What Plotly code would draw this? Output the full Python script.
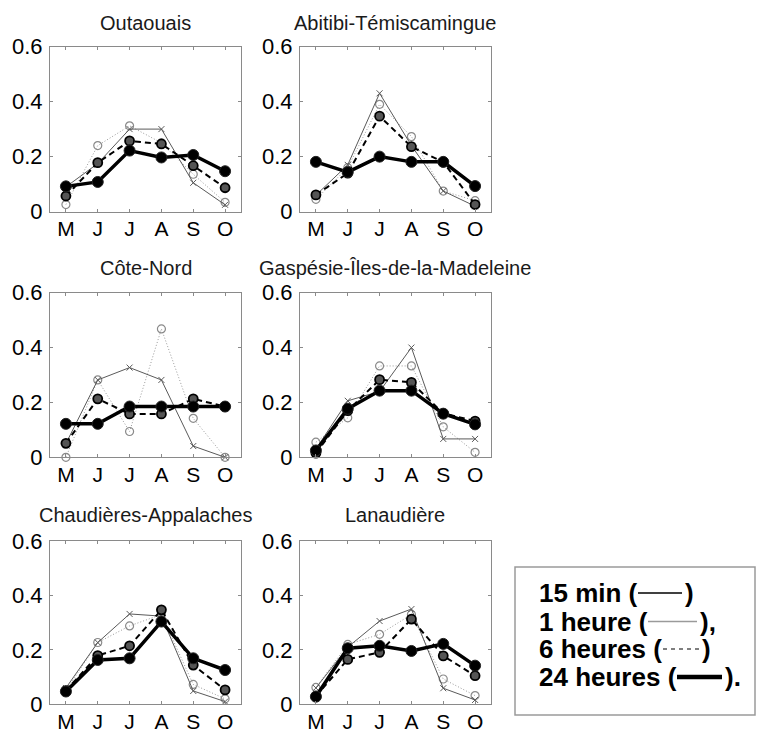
import plotly.graph_objects as go

W, H = 758, 732

months = ["M", "J", "J", "A", "S", "O"]
month_pos = [1, 2, 3, 4, 5, 6]
yticks = [0, 0.2, 0.4, 0.6]
yticklabels = ["0", "0.2", "0.4", "0.6"]

regions = ["Outaouais", "Abitibi-Témiscamingue", "Côte-Nord",
           "Gaspésie-Îles-de-la-Madeleine", "Chaudières-Appalaches", "Lanaudière"]

# 15 min (thin solid, x markers)
min15 = [
    [0.09, 0.175, 0.30, 0.30, 0.105, 0.025],
    [0.06, 0.17, 0.43, 0.24, 0.075, 0.02],
    [0.05, 0.282, 0.327, 0.282, 0.041, 0.0],
    [0.03, 0.206, 0.24, 0.40, 0.067, 0.067],
    [0.06, 0.227, 0.332, 0.324, 0.049, 0.01],
    [0.06, 0.21, 0.306, 0.35, 0.059, 0.016],
]
# 1 heure (dotted, open circles)
h1 = [
    [0.026, 0.24, 0.312, 0.25, 0.136, 0.034],
    [0.045, 0.16, 0.39, 0.273, 0.075, 0.04],
    [0.0, 0.282, 0.094, 0.468, 0.142, 0.0],
    [0.055, 0.144, 0.333, 0.333, 0.111, 0.018],
    [0.05, 0.227, 0.288, 0.33, 0.073, 0.02],
    [0.062, 0.22, 0.257, 0.33, 0.093, 0.032],
]
# 6 heures (dashed)
h6 = [
    [0.057, 0.178, 0.257, 0.246, 0.167, 0.087],
    [0.061, 0.14, 0.347, 0.236, 0.18, 0.026],
    [0.051, 0.213, 0.158, 0.158, 0.213, 0.185],
    [0.015, 0.17, 0.283, 0.273, 0.16, 0.132],
    [0.05, 0.179, 0.215, 0.347, 0.144, 0.053],
    [0.03, 0.165, 0.191, 0.313, 0.178, 0.105],
]
# 24 heures (thick)
h24 = [
    [0.092, 0.108, 0.222, 0.197, 0.206, 0.147],
    [0.181, 0.144, 0.2, 0.181, 0.181, 0.093],
    [0.122, 0.122, 0.185, 0.185, 0.185, 0.185],
    [0.025, 0.177, 0.243, 0.243, 0.159, 0.12],
    [0.047, 0.163, 0.169, 0.304, 0.169, 0.126],
    [0.028, 0.206, 0.215, 0.196, 0.222, 0.142],
]

legend_left = ["15 min (", "1 heure (", "6 heures (", "24 heures ("]
legend_right = [")", "),", ")", ")."]


def px(x):
    return x / W


def py(y):
    return 1 - y / H


col_px = [(50, 241), (300, 491)]
row_px = [(46.5, 211.7), (292.7, 457.3), (541, 704.3)]

fig = go.Figure()
layout = dict(
    template="none",
    width=W, height=H,
    margin=dict(l=0, r=0, t=0, b=0, pad=0, autoexpand=False),
    paper_bgcolor="white", plot_bgcolor="white",
    showlegend=False,
    font=dict(family="Liberation Sans, Arial, sans-serif", color="black"),
)
annotations = []
shapes = []

for i, name in enumerate(regions):
    r, c = divmod(i, 2)
    k = i + 1
    xa = "x" if k == 1 else f"x{k}"
    ya = "y" if k == 1 else f"y{k}"
    x0, x1 = col_px[c]
    y0, y1 = row_px[r]
    axis_common = dict(
        showline=True, linecolor="#8a8a8a", linewidth=1, mirror="ticks",
        ticks="inside", ticklen=3, tickcolor="#8a8a8a", tickwidth=1,
        showgrid=False, zeroline=False, automargin=False,
    )
    layout["xaxis" if k == 1 else f"xaxis{k}"] = dict(
        domain=[px(x0), px(x1)], range=[0.5, 6.5],
        tickvals=month_pos, ticktext=months, anchor=ya,
        fixedrange=True, ticklabelstandoff=-2,
        tickfont=dict(size=21, color="black"), **axis_common)
    layout["yaxis" if k == 1 else f"yaxis{k}"] = dict(
        domain=[py(y1), py(y0)], range=[0, 0.6],
        tickvals=yticks, ticktext=yticklabels, anchor=xa,
        fixedrange=True, ticklabelstandoff=2,
        tickfont=dict(size=22, color="black"), **axis_common)

    # 1 heure: dotted light gray, open circles
    fig.add_trace(go.Scatter(
        x=month_pos, y=h1[i], xaxis=xa, yaxis=ya, mode="lines+markers",
        line=dict(color="#9a9a9a", width=1, dash="1px,2px"),
        marker=dict(symbol="circle-open", size=8, color="#8a8a8a", line=dict(width=1.2)),
        cliponaxis=False, name="1 heure"))
    # 15 min: thin solid dark gray, x markers
    fig.add_trace(go.Scatter(
        x=month_pos, y=min15[i], xaxis=xa, yaxis=ya, mode="lines+markers",
        line=dict(color="#5a5a5a", width=1),
        marker=dict(symbol="x-thin-open", size=6, color="#5a5a5a", line=dict(width=1, color="#5a5a5a")),
        cliponaxis=False, name="15 min"))
    # 6 heures: dashed black
    fig.add_trace(go.Scatter(
        x=month_pos, y=h6[i], xaxis=xa, yaxis=ya, mode="lines+markers",
        line=dict(color="black", width=2, dash="6px,4px"),
        marker=dict(symbol="circle", size=9, color="#555555", line=dict(width=1.8, color="black")),
        cliponaxis=False, name="6 heures"))
    # 24 heures: thick black
    fig.add_trace(go.Scatter(
        x=month_pos, y=h24[i], xaxis=xa, yaxis=ya, mode="lines+markers",
        line=dict(color="black", width=3.5),
        marker=dict(symbol="circle", size=11, color="black", line=dict(width=1, color="#222")),
        cliponaxis=False, name="24 heures"))

    title_y = [23, 268, 515][r]
    annotations.append(dict(
        text=name, xref="paper", yref="paper", x=px((x0 + x1) / 2), y=py(title_y),
        xanchor="center", yanchor="middle", showarrow=False,
        font=dict(size=20, color="#1a1a1a")))

# legend box
shapes.append(dict(type="rect", xref="paper", yref="paper",
                   x0=px(515), x1=px(755), y0=py(715), y1=py(567),
                   line=dict(color="#9a9a9a", width=1.5), fillcolor="white", layer="below"))

leg_x = 537
leg_y = [593, 621.5, 649, 677]
seg = [(638, 682), (648, 697), (663, 699), (677, 722)]
seg_style = [
    dict(color="black", width=1.5),
    dict(color="#9a9a9a", width=1.5),
    dict(color="black", width=1.2, dash="4px,4px"),
    dict(color="black", width=4.5),
]
for j in range(4):
    sx0, sx1 = seg[j]
    annotations.append(dict(
        text="<b>" + legend_left[j] + "</b>", xref="paper", yref="paper",
        x=px(leg_x), y=py(leg_y[j]), xanchor="left", yanchor="middle",
        showarrow=False, font=dict(size=26, color="black")))
    annotations.append(dict(
        text="<b>" + legend_right[j] + "</b>", xref="paper", yref="paper",
        x=px(sx1 + 1), y=py(leg_y[j]), xanchor="left", yanchor="middle",
        showarrow=False, font=dict(size=26, color="black")))
    shapes.append(dict(type="line", xref="paper", yref="paper",
                       x0=px(sx0), x1=px(sx1), y0=py(leg_y[j]), y1=py(leg_y[j]),
                       line=seg_style[j]))

layout["annotations"] = annotations
layout["shapes"] = shapes
fig.update_layout(**layout)
fig.write_html(
    "out.html",
    config={"displayModeBar": False, "staticPlot": True},
    post_script="document.body.style.margin='0px';document.body.style.overflow='hidden';",
)
